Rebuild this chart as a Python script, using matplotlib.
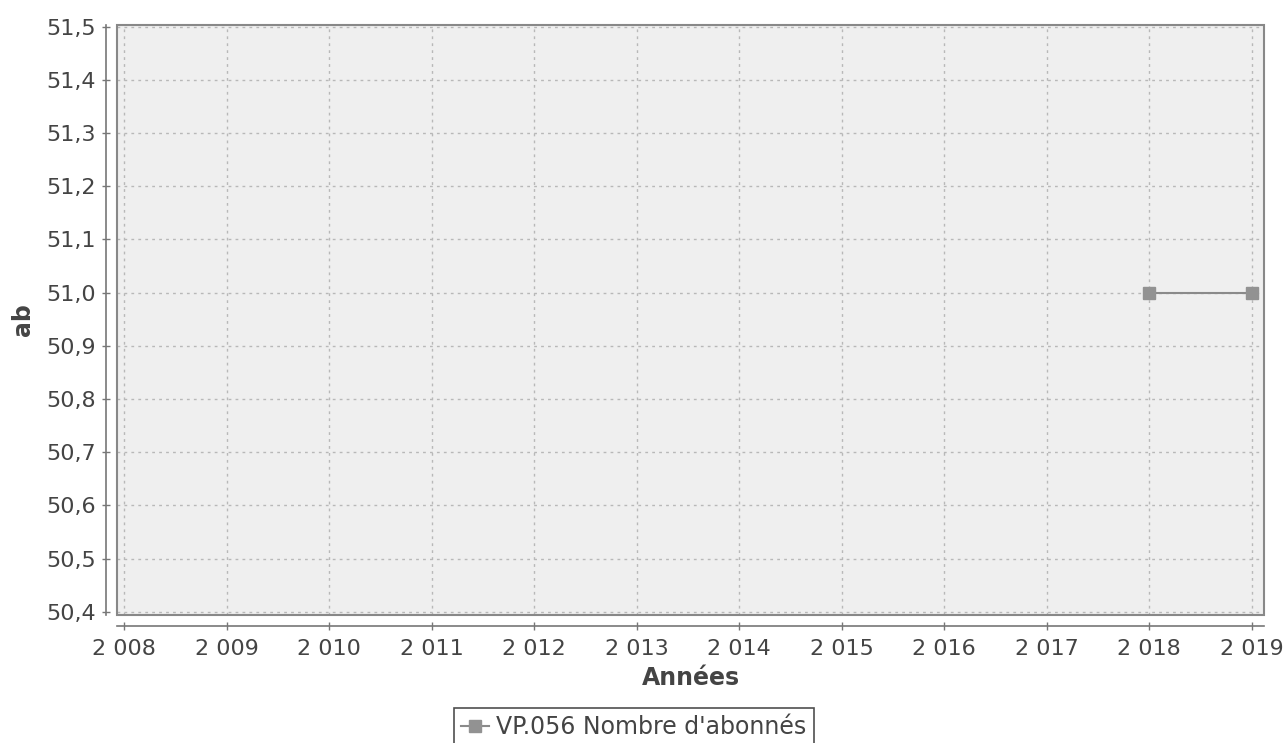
import matplotlib
matplotlib.use("Agg")
from matplotlib import pyplot as plt
from matplotlib.ticker import FuncFormatter, MultipleLocator
from matplotlib.patches import Rectangle

years = [2018, 2019]
abonnes = [51.0, 51.0]
series_name = "VP.056 Nombre d'abonnés"
x_ticks = list(range(2008, 2020))


def fr_year(v, pos):
    return "{:,}".format(int(round(v))).replace(",", " ")


def fr_dec(v, pos):
    return "{:.1f}".format(v).replace(".", ",")


def main():
    plt.rcParams['font.family'] = ['DejaVu Sans']
    fig = plt.figure(figsize=(12.87, 7.43), dpi=100)
    ax = fig.add_axes([117 / 1287, 1 - 615 / 743, (1264 - 117) / 1287, (615 - 25) / 743])
    ax.set_facecolor('#efefef')

    ax.plot(years, abonnes, color='#8a8a8a', lw=1.5, marker='s', ms=8.5,
            mfc='#929292', mec='#929292', label=series_name, zorder=3)

    ax.set_xlim(2007.93, 2019.12)
    ax.set_ylim(50.394, 51.503)
    ax.set_xticks(x_ticks)
    ax.yaxis.set_major_locator(MultipleLocator(0.1))
    ax.xaxis.set_major_formatter(FuncFormatter(fr_year))
    ax.yaxis.set_major_formatter(FuncFormatter(fr_dec))

    ax.grid(True, color='#b8b8b8', linestyle=(0, (2, 3)), lw=1.0)

    for s in ['top', 'right']:
        ax.spines[s].set_visible(False)
    for s in ['left', 'bottom']:
        ax.spines[s].set_position(('outward', 8))
        ax.spines[s].set_color('#777777')
        ax.spines[s].set_linewidth(1.2)
    # plot outline
    ax.add_patch(Rectangle((0, 0), 1, 1, transform=ax.transAxes, fill=False,
                           ec='#888888', lw=1.5, clip_on=False, zorder=4))

    ax.tick_params(axis='both', direction='inout', length=6, width=1,
                   color='#777777', labelsize=16, labelcolor='#444444')
    ax.tick_params(axis='x', pad=6)
    ax.tick_params(axis='y', pad=4)

    ax.set_xlabel("Années", fontsize=17, fontweight='bold', color='#444444', labelpad=5)
    ax.set_ylabel("ab", fontsize=17, fontweight='bold', color='#444444', labelpad=8)

    leg = fig.legend(loc='upper center', bbox_to_anchor=(0.4925, 1 - 708 / 743),
                     fontsize=17, frameon=True, fancybox=False, borderpad=0.3,
                     handlelength=1.2, handletextpad=0.3, borderaxespad=0)
    leg.get_frame().set_edgecolor('#222222')
    leg.get_frame().set_linewidth(1.2)
    for t in leg.get_texts():
        t.set_color('#444444')

    fig.savefig("out.png", dpi=100, facecolor='white')


if __name__ == "__main__":
    main()
